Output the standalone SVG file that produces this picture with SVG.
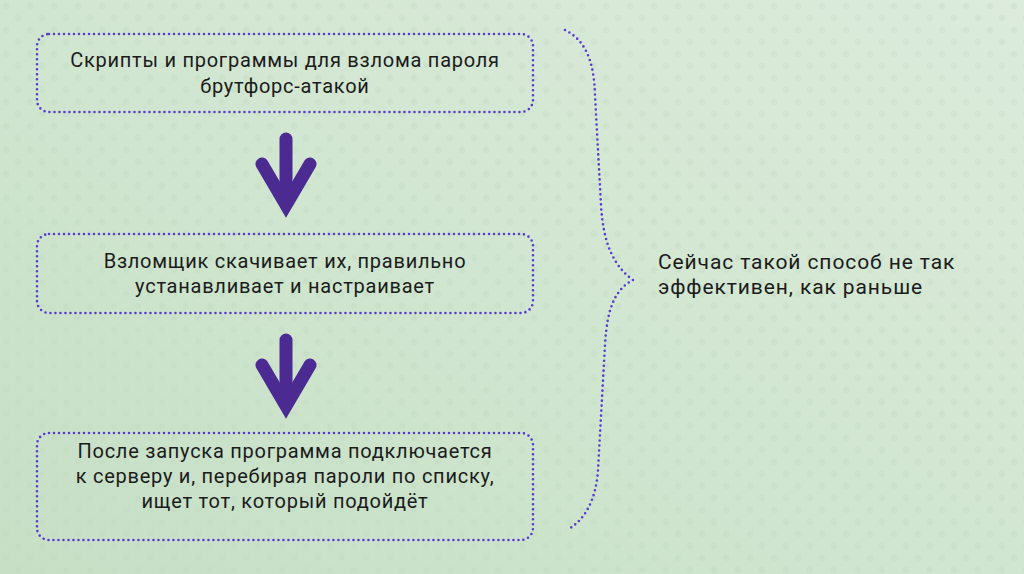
<svg xmlns="http://www.w3.org/2000/svg" width="1024" height="574" viewBox="0 0 1024 574">
  <defs>
    <linearGradient id="bg" x1="0" y1="1" x2="1" y2="0">
      <stop offset="0" stop-color="#c6dfc5"/>
      <stop offset="0.5" stop-color="#d1e6d0"/>
      <stop offset="1" stop-color="#dcebdc"/>
    </linearGradient>
    <pattern id="dots" width="24" height="24" patternUnits="userSpaceOnUse">
      <circle cx="6" cy="6" r="3" fill="#b9d4b8"/>
      <circle cx="18" cy="18" r="3" fill="#b9d4b8"/>
    </pattern>
    <style>
      .box { fill: none; stroke: #5a3bd0; stroke-width: 2.6; stroke-dasharray: 0 5; stroke-linecap: round; }
      .brace { fill: none; stroke: #5a3bd0; stroke-width: 2.6; stroke-dasharray: 0 5; stroke-linecap: round; }
      .shaft { fill: none; stroke: #4b2a91; stroke-width: 13; stroke-linecap: round; }
      .head { fill: none; stroke: #4b2a91; stroke-width: 13; stroke-linecap: round; stroke-linejoin: miter; stroke-miterlimit: 4; }
      text { font-family: Roboto, "Liberation Sans", sans-serif; font-size: 20px; letter-spacing: 0.75px; fill: #1b1b1b; }
      .c { text-anchor: middle; }
      .note { font-size: 21px; letter-spacing: 0.9px; }
    </style>
  </defs>
  <rect width="1024" height="574" fill="url(#bg)"/>
  <rect width="1024" height="574" fill="url(#dots)" opacity="0.25"/>

  <g id="node1">
    <rect class="box" x="37" y="34" width="496" height="78" rx="12"/>
    <text class="c" x="285" y="67">Скрипты и программы для взлома пароля</text>
    <text class="c" x="285" y="93">брутфорс-атакой</text>
  </g>
  <g id="node2">
    <rect class="box" x="37" y="234" width="496" height="79" rx="12"/>
    <text class="c" x="285" y="268">Взломщик скачивает их, правильно</text>
    <text class="c" x="285" y="293">устанавливает и настраивает</text>
  </g>
  <g id="node3">
    <rect class="box" x="37" y="433" width="496" height="107" rx="12"/>
    <text class="c" x="285" y="458">После запуска программа подключается</text>
    <text class="c" x="285" y="483">к серверу и, перебирая пароли по списку,</text>
    <text class="c" x="285" y="508">ищет тот, который подойдёт</text>
  </g>
  <g id="note">
    <text class="note" x="658" y="269">Сейчас такой способ не так</text>
    <text class="note" x="658" y="294">эффективен, как раньше</text>
  </g>

  <g id="connectors">
    <path class="shaft" d="M286,139 L286,200"/>
    <path class="head" d="M262,164 L286,205 L310,164"/>
    <path class="shaft" d="M286,340 L286,401"/>
    <path class="head" d="M262,365 L286,406 L310,365"/>
    <path class="brace" d="M565,30 C585,40 594,60 595,95 L601,205 C603,240 612,265 633,280 C614,290 607,310 605,345 L598,470 C596,500 585,520 567,530"/>
  </g>
</svg>
